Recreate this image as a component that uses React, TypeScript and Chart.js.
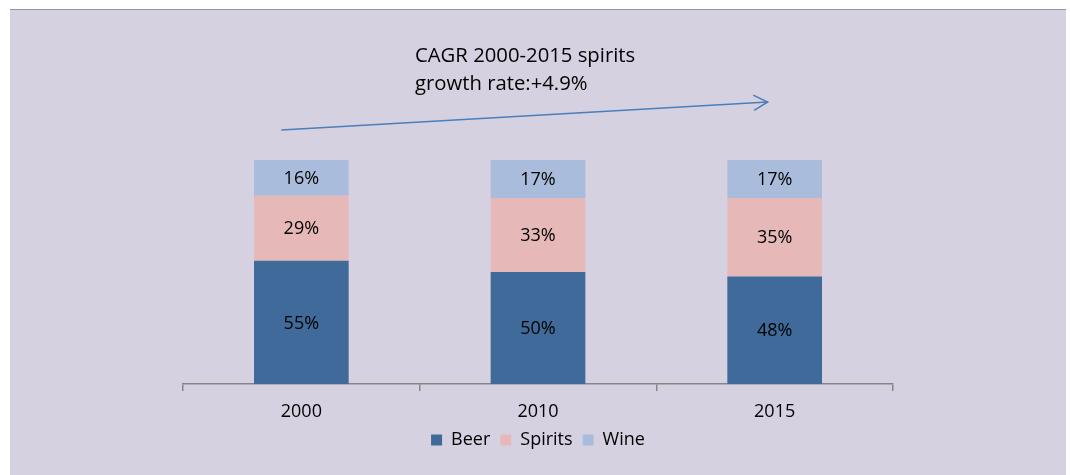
import React, { useEffect, useRef } from "react";
import { Chart, registerables } from "chart.js";

Chart.register(...registerables);

const categories = ["2000", "2010", "2015"];
const beer = [55, 50, 48];
const spirits = [29, 33, 35];
const wine = [16, 17, 17];
const annotationLines = ["CAGR 2000-2015 spirits", "growth rate:+4.9%"];

const FONT = "'Open Sans', 'DejaVu Sans', sans-serif";

const backgroundPlugin = {
  id: "panelBg",
  beforeDraw(chart: any) {
    const ctx = chart.ctx;
    ctx.save();
    ctx.fillStyle = "#ffffff";
    ctx.fillRect(0, 0, chart.width, chart.height);
    ctx.fillStyle = "#D6D1E1";
    ctx.fillRect(10, 9, 1056, chart.height - 9);
    ctx.fillStyle = "#9690AE";
    ctx.fillRect(10, 9, 1056, 1);
    ctx.restore();
  },
};

const labelPlugin = {
  id: "barLabels",
  afterDatasetsDraw(chart: any) {
    const ctx = chart.ctx;
    ctx.save();
    ctx.font = `18px ${FONT}`;
    ctx.fillStyle = "#000000";
    ctx.textAlign = "center";
    ctx.textBaseline = "middle";
    chart.data.datasets.forEach((ds: any, i: number) => {
      const meta = chart.getDatasetMeta(i);
      meta.data.forEach((bar: any, j: number) => {
        const v = ds.data[j];
        ctx.fillText(`${v}%`, bar.x, (bar.y + bar.base) / 2 + 1);
      });
    });
    ctx.restore();
  },
};

const annotationPlugin = {
  id: "cagrArrow",
  afterDraw(chart: any) {
    const ctx = chart.ctx;
    const x = chart.scales.x;
    const area = chart.chartArea;
    ctx.save();
    ctx.font = `20.3px ${FONT}`;
    ctx.fillStyle = "#000000";
    ctx.textAlign = "left";
    ctx.textBaseline = "alphabetic";
    const tx = area.left + 232;
    ctx.fillText(annotationLines[0], tx, area.top - 98);
    ctx.fillText(annotationLines[1], tx, area.top - 70);

    const x0 = x.getPixelForValue(0) - 20;
    const y0 = area.top - 30;
    const x1 = x.getPixelForValue(2) - 7;
    const y1 = area.top - 58;
    ctx.strokeStyle = "#4A7EBB";
    ctx.lineWidth = 1.5;
    ctx.beginPath();
    ctx.moveTo(x0, y0);
    ctx.lineTo(x1, y1);
    ctx.stroke();
    const ang = Math.atan2(y1 - y0, x1 - x0);
    const len = 16;
    const spread = 0.5;
    ctx.beginPath();
    ctx.moveTo(x1 - len * Math.cos(ang - spread), y1 - len * Math.sin(ang - spread));
    ctx.lineTo(x1, y1);
    ctx.lineTo(x1 - len * Math.cos(ang + spread), y1 - len * Math.sin(ang + spread));
    ctx.stroke();
    ctx.restore();
  },
};

export default function App() {
  const ref = useRef<HTMLCanvasElement>(null);
  useEffect(() => {
    if (!ref.current) return;
    const chart = new Chart(ref.current, {
      type: "bar",
      data: {
        labels: categories,
        datasets: [
          { label: "Beer", data: beer, backgroundColor: "#3F6A9A" },
          { label: "Spirits", data: spirits, backgroundColor: "#E6B9B8" },
          { label: "Wine", data: wine, backgroundColor: "#AABCDB" },
        ],
      },
      options: {
        responsive: false,
        animation: false,
        events: [],
        layout: { padding: { left: 183, right: 177, top: 160, bottom: 16 } },
        datasets: { bar: { categoryPercentage: 1, barPercentage: 0.4 } } as any,
        scales: {
          x: {
            stacked: true,
            offset: true,
            afterFit: (scale: any) => {
              scale.height = 37;
            },
            grid: {
              offset: true,
              drawOnChartArea: false,
              drawTicks: true,
              tickLength: 7,
              color: "#868686",
              lineWidth: 1.5,
            },
            border: { display: true, color: "#868686", width: 1.5 },
            ticks: { color: "#000000", padding: 10, font: { family: FONT, size: 18 } },
          },
          y: { stacked: true, display: false, min: 0, max: 100 },
        },
        plugins: {
          legend: {
            position: "bottom",
            labels: {
              boxWidth: 11,
              boxHeight: 11,
              padding: 10,
              color: "#000000",
              font: { family: FONT, size: 18 },
            },
          },
          tooltip: { enabled: false },
        },
      },
      plugins: [backgroundPlugin, labelPlugin, annotationPlugin],
    });
    return () => chart.destroy();
  }, []);
  return (
    <div style={{ position: "fixed", left: 0, top: 0 }}>
      <canvas ref={ref} width={1070} height={475} style={{ display: "block", width: 1070, height: 475 }} />
    </div>
  );
}
